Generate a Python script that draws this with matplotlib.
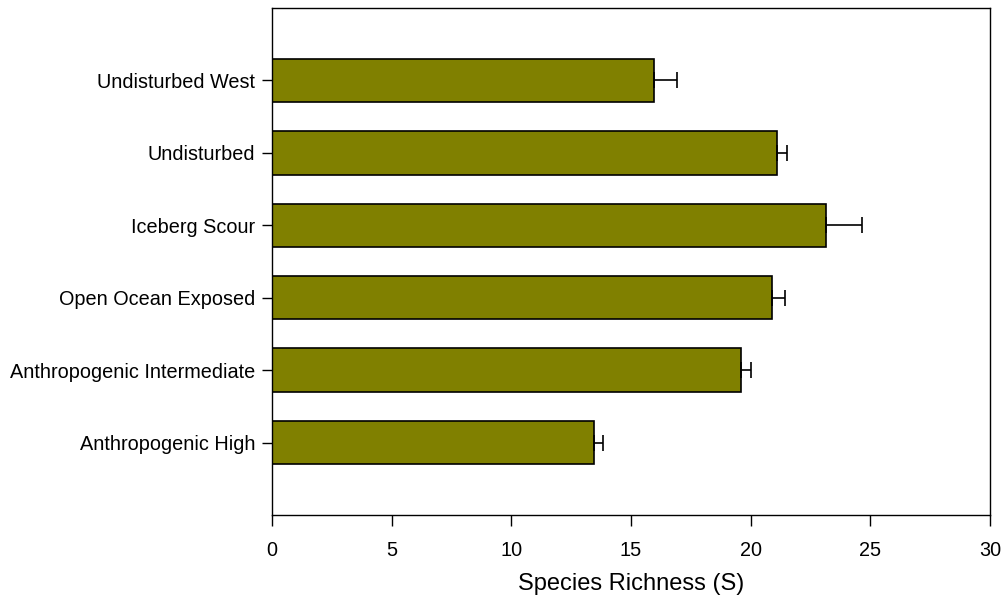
import matplotlib
matplotlib.use("Agg")
import matplotlib.pyplot as plt
import numpy as np

plt.rcParams['font.family'] = ['Liberation Sans', 'DejaVu Sans']

# Mean species richness per site type, with standard error
sites = ["Anthropogenic High", "Anthropogenic Intermediate", "Open Ocean Exposed",
         "Iceberg Scour", "Undisturbed", "Undisturbed West"]
richness = [13.47, 19.61, 20.91, 23.14, 21.09, 15.97]
std_err = [0.36, 0.39, 0.53, 1.52, 0.42, 0.96]

fig = plt.figure(figsize=(10.05, 5.99), dpi=100)
ax = fig.add_axes([0.2706, 0.1402, 0.7144, 0.8464])

y = np.arange(len(sites))
ax.barh(y, richness, height=0.6, color="#808000", edgecolor="black", linewidth=1.2,
        zorder=2)
# one-sided error bars to the right
ax.errorbar(richness, y, xerr=[np.zeros(len(std_err)), std_err], fmt="none",
            ecolor="black", elinewidth=1.2, capsize=5.5, capthick=1.2, zorder=3)

ax.set_xlim(0, 30)
ax.set_ylim(-1.0, 6.0)
ax.set_xticks([0, 5, 10, 15, 20, 25, 30])
ax.set_yticks(y)
ax.set_yticklabels(sites)
ax.tick_params(axis="x", direction="out", length=8, width=1, labelsize=14.3, pad=11)
ax.tick_params(axis="y", direction="out", length=7, width=1, labelsize=14.3, pad=5)
for side in ax.spines.values():
    side.set_linewidth(1)

ax.set_xlabel("Species Richness (S)", fontsize=17, labelpad=9)

fig.savefig("out.png", dpi=100)
